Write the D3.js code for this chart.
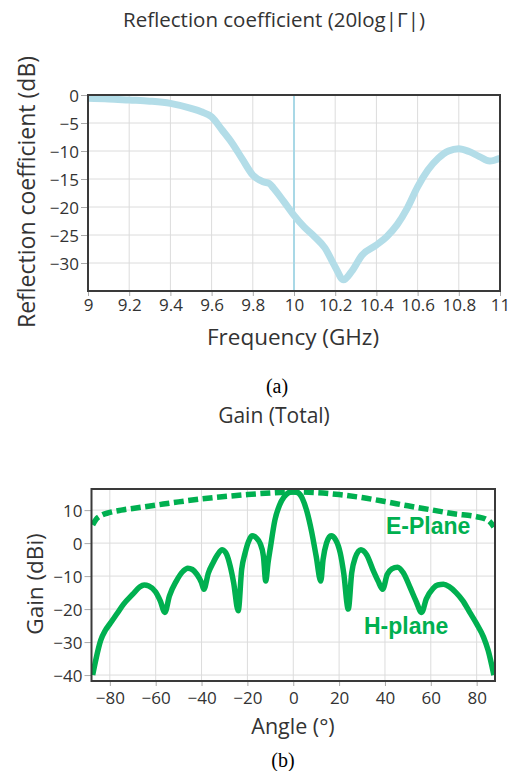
<!DOCTYPE html>
<html><head><meta charset="utf-8">
<script src="https://cdn.jsdelivr.net/npm/d3@7"></script>
<style>
body{margin:0;background:#fff;}
svg{display:block;}
text{font-family:"Open Sans",sans-serif;fill:#333;}
</style></head>
<body><svg id="c" width="516" height="771"></svg>
<script>
// ---- Data: (a) reflection coefficient ----
const freq = [9.0, 9.1, 9.2, 9.3, 9.4, 9.5, 9.55, 9.6, 9.65, 9.7, 9.75, 9.8, 9.85, 9.88, 9.9, 9.95, 10.0, 10.05, 10.1, 10.15, 10.2, 10.24, 10.28, 10.33, 10.4, 10.45, 10.5, 10.55, 10.6, 10.65, 10.7, 10.75, 10.8, 10.85, 10.9, 10.95, 11.0];
const s11 = [-0.6, -0.7, -0.9, -1.1, -1.5, -2.4, -3.0, -3.9, -6.2, -8.6, -11.5, -14.3, -15.5, -15.8, -16.6, -19.0, -21.5, -23.6, -25.3, -27.3, -30.7, -33.0, -31.5, -28.6, -26.8, -25.3, -23.2, -20.2, -16.4, -13.4, -11.3, -10.0, -9.6, -10.1, -11.0, -11.8, -11.3];
const freqTicks = [9, 9.2, 9.4, 9.6, 9.8, 10, 10.2, 10.4, 10.6, 10.8, 11];
const s11Ticks = [0, -5, -10, -15, -20, -25, -30];
const markerFreq = 10;

// ---- Data: (b) gain ----
const hAng = [-87.5, -86, -84, -82, -80, -77, -74, -70, -67, -65, -63, -60, -58, -56, -54, -51, -48, -46, -44, -42, -40, -39, -37, -35, -33, -31, -29, -27.5, -26, -24, -22.5, -21, -19.5, -18, -16, -14.5, -13, -12, -11, -10, -8, -6, -4, -2, 0,
  2, 4, 6, 8, 10, 12, 13, 14.5, 16.5, 18.5, 20.5, 22, 24, 25.5, 27, 29.5, 32, 35, 37, 39, 41, 43, 45.5, 48, 51, 53.5, 56, 58, 61, 63, 65.5, 68, 71, 74, 77, 80, 83, 85, 87.5];
const hGain = [-40, -35, -29.5, -26.5, -24.5, -21.5, -18.5, -15.5, -13.3, -12.7, -13, -14.8, -17.5, -21, -16, -11.5, -8.5, -7.6, -8, -9.5, -12, -14, -9, -6, -3.5, -2, -3.5, -7, -12, -20.5, -8, -3, 0.5, 2.2, 1.5, 0, -4, -11.5, -6, -1.5, 7, 11.5, 14, 15.3, 15.6,
  15.3, 13.5, 9.5, 3.5, -4, -11.5, -5, 0, 2.2, 1, -3, -9, -20, -9, -4.5, -2, -3.5, -8.5, -11.5, -14, -9.5, -7.8, -7.3, -9, -13.5, -17.5, -21, -17, -13.7, -12.7, -12.5, -13.2, -15, -17.5, -21, -24.5, -28.5, -32.5, -40];
const eAng = [-87.5, -86, -84, -80, -75, -70, -60, -50, -40, -30, -20, -10, 0, 10, 20, 30, 40, 50, 60, 70, 80, 84, 86, 87.5];
const eGain = [5.5, 7.2, 8.3, 9.3, 10, 10.5, 11.5, 12.5, 13.4, 14.1, 14.7, 15.2, 15.5, 15.3, 14.7, 13.8, 12.6, 11.3, 10.1, 8.9, 8.0, 7.3, 6.3, 4.9];
const angTicks = [-80, -60, -40, -20, 0, 20, 40, 60, 80];
const gainTicks = [10, 0, -10, -20, -30, -40];

const svg = d3.select("#c");
const GRID = "#dcdcdc", BORDER = "#3a3a3a";

function panel(o){
  const g = svg.append("g");
  const x = d3.scaleLinear().domain(o.xd).range([o.L, o.R]);
  const y = d3.scaleLinear().domain(o.yd).range([o.B, o.T]);
  g.append("g").selectAll("line").data(o.xt).join("line")
    .attr("x1", d=>x(d)).attr("x2", d=>x(d)).attr("y1", o.T).attr("y2", o.B)
    .attr("stroke", GRID).attr("stroke-width", 1);
  g.append("g").selectAll("line").data(o.yt).join("line")
    .attr("y1", d=>y(d)).attr("y2", d=>y(d)).attr("x1", o.L).attr("x2", o.R)
    .attr("stroke", GRID).attr("stroke-width", 1);
  const xa = g.append("g").attr("transform", `translate(0,${o.B})`)
    .call(d3.axisBottom(x).tickValues(o.xt).tickSize(5).tickPadding(o.xpad).tickFormat(d3.format("~g")));
  const ya = g.append("g").attr("transform", `translate(${o.L},0)`)
    .call(d3.axisLeft(y).tickValues(o.yt).tickSize(7).tickPadding(2).tickFormat(d3.format("~g")));
  [xa, ya].forEach(a=>{
    a.select(".domain").remove();
    a.selectAll(".tick line").attr("stroke", "#aaa");
    a.selectAll("text").attr("font-size", 17).attr("font-family", "'Open Sans',sans-serif").attr("fill", "#333");
  });
  ya.selectAll("text").attr("dy", "0.36em");
  return {g, x, y};
}

// ---- Panel (a) ----
const A = panel({xd:[9, 11], yd:[-35, 0], L:88, R:500, T:95, B:291, xt:freqTicks, yt:s11Ticks, xpad:3});
A.g.append("line").attr("x1", A.x(markerFreq)).attr("x2", A.x(markerFreq))
  .attr("y1", 95).attr("y2", 291).attr("stroke", "#a9d8e6").attr("stroke-width", 2);
A.g.append("path").datum(freq.map((f,i)=>[f, s11[i]]))
  .attr("d", d3.line().x(d=>A.x(d[0])).y(d=>A.y(d[1])).curve(d3.curveMonotoneX))
  .attr("fill", "none").attr("stroke", "#b3dde8").attr("stroke-width", 7).attr("stroke-linejoin", "round");
A.g.append("rect").attr("x", 88).attr("y", 95).attr("width", 412).attr("height", 196)
  .attr("fill", "none").attr("stroke", BORDER).attr("stroke-width", 2);
svg.append("text").attr("x", 274).attr("y", 27).attr("text-anchor", "middle").attr("font-size", 20.5)
  .text("Reflection coefficient (20log|Γ|)");
svg.append("text").attr("x", 293).attr("y", 345).attr("text-anchor", "middle").attr("font-size", 22.5)
  .text("Frequency (GHz)");
svg.append("text").attr("transform", "translate(35,192) rotate(-90)").attr("text-anchor", "middle").attr("font-size", 23)
  .text("Reflection coefficient (dB)");
svg.append("text").attr("x", 277).attr("y", 393).attr("text-anchor", "middle").attr("font-size", 20)
  .style("font-family", "'Liberation Serif',serif").style("fill", "#000")
  .text("(a)");

// ---- Panel (b) ----
const B = panel({xd:[-88, 88], yd:[-41.8, 16.4], L:91.5, R:495, T:489, B:681, xt:angTicks, yt:gainTicks, xpad:6});
svg.append("clipPath").attr("id", "clipB").append("rect")
  .attr("x", 91.5).attr("y", 489).attr("width", 403.5).attr("height", 192);
const lineB = d3.line().x(d=>B.x(d[0])).y(d=>B.y(d[1])).curve(d3.curveMonotoneX);
B.g.append("path").datum(eAng.map((a,i)=>[a, eGain[i]])).attr("clip-path", "url(#clipB)")
  .attr("d", lineB).attr("fill", "none").attr("stroke", "#00b050").attr("stroke-width", 5.5)
  .attr("stroke-dasharray", "10,4.5");
B.g.append("path").datum(hAng.map((a,i)=>[a, hGain[i]])).attr("clip-path", "url(#clipB)")
  .attr("d", lineB).attr("fill", "none").attr("stroke", "#00b050").attr("stroke-width", 5.5).attr("stroke-linejoin", "round");
B.g.append("rect").attr("x", 91.5).attr("y", 489).attr("width", 403.5).attr("height", 192)
  .attr("fill", "none").attr("stroke", BORDER).attr("stroke-width", 2);
svg.append("text").attr("x", 274).attr("y", 423).attr("text-anchor", "middle").attr("font-size", 21)
  .text("Gain (Total)");
svg.append("text").attr("x", 293).attr("y", 734).attr("text-anchor", "middle").attr("font-size", 21.5)
  .text("Angle (°)");
svg.append("text").attr("transform", "translate(43,584) rotate(-90)").attr("text-anchor", "middle").attr("font-size", 22.5)
  .text("Gain (dBi)");
svg.append("text").attr("x", 386).attr("y", 534).attr("font-size", 23).attr("font-weight", "bold")
  .style("font-family", "'Liberation Sans',Arial,sans-serif").style("fill", "#00b050").text("E-Plane");
svg.append("text").attr("x", 364).attr("y", 634).attr("font-size", 23).attr("font-weight", "bold")
  .style("font-family", "'Liberation Sans',Arial,sans-serif").style("fill", "#00b050").text("H-plane");
svg.append("text").attr("x", 283).attr("y", 767).attr("text-anchor", "middle").attr("font-size", 20)
  .style("font-family", "'Liberation Serif',serif").style("fill", "#000").text("(b)");
</script></body></html>
